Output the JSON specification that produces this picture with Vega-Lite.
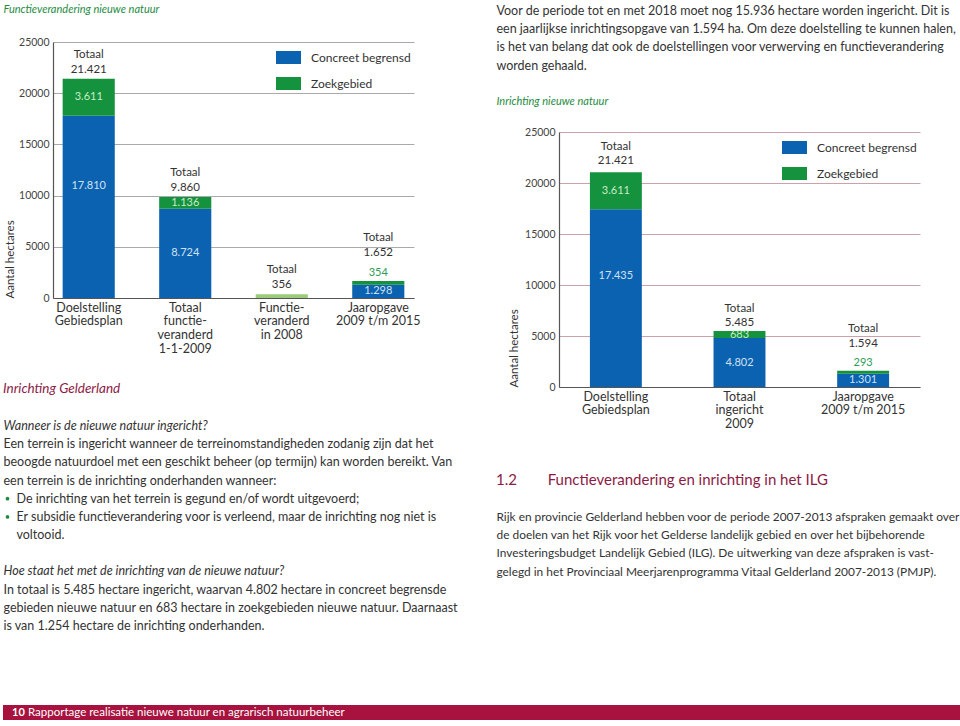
{
  "$schema": "https://vega.github.io/schema/vega-lite/v6.json",
  "background": "white",
  "padding": {"left": 3, "top": 3, "right": 0, "bottom": 0},
  "config": {
    "font": "Lato",
    "view": {"stroke": null},
    "locale": {"number": {"decimal": ",", "thousands": ".", "grouping": [3], "currency": ["€", ""]}},
    "title": {"fontWeight": "normal", "anchor": "start", "frame": "bounds", "font": "Lato"},
    "axis": {"labelFont": "Lato", "titleFont": "Lato"},
    "legend": {"labelFont": "Lato"},
    "text": {"font": "Lato"}
  },
  "datasets": {
    "left": [
      {"cat": "Doelstelling\nGebiedsplan", "series": "Concreet begrensd", "value": 17810},
      {"cat": "Doelstelling\nGebiedsplan", "series": "Zoekgebied", "value": 3611},
      {"cat": "Totaal\nfunctie-\nveranderd\n1-1-2009", "series": "Concreet begrensd", "value": 8724},
      {"cat": "Totaal\nfunctie-\nveranderd\n1-1-2009", "series": "Zoekgebied", "value": 1136},
      {"cat": "Functie-\nveranderd\nin 2008", "series": "Functieveranderd", "value": 356},
      {"cat": "Jaaropgave\n2009 t/m 2015", "series": "Concreet begrensd", "value": 1298},
      {"cat": "Jaaropgave\n2009 t/m 2015", "series": "Zoekgebied", "value": 354}
    ],
    "leftTotals": [
      {"cat": "Doelstelling\nGebiedsplan", "total": 21421},
      {"cat": "Totaal\nfunctie-\nveranderd\n1-1-2009", "total": 9860},
      {"cat": "Functie-\nveranderd\nin 2008", "total": 356},
      {"cat": "Jaaropgave\n2009 t/m 2015", "total": 1652}
    ],
    "right": [
      {"cat": "Doelstelling\nGebiedsplan", "series": "Concreet begrensd", "value": 17435},
      {"cat": "Doelstelling\nGebiedsplan", "series": "Zoekgebied", "value": 3611},
      {"cat": "Totaal\ningericht\n2009", "series": "Concreet begrensd", "value": 4802},
      {"cat": "Totaal\ningericht\n2009", "series": "Zoekgebied", "value": 683},
      {"cat": "Jaaropgave\n2009 t/m 2015", "series": "Concreet begrensd", "value": 1301},
      {"cat": "Jaaropgave\n2009 t/m 2015", "series": "Zoekgebied", "value": 293}
    ],
    "rightTotals": [
      {"cat": "Doelstelling\nGebiedsplan", "total": 21421},
      {"cat": "Totaal\ningericht\n2009", "total": 5485},
      {"cat": "Jaaropgave\n2009 t/m 2015", "total": 1594}
    ],
    "ltItalic": [
      {"line": 0, "text": "Wanneer is de nieuwe natuur ingericht?"},
      {"line": 8, "text": "Hoe staat het met de inrichting van de nieuwe natuur?"}
    ],
    "ltBody": [
      {"line": 1, "text": "Een terrein is ingericht wanneer de terreinomstandigheden zodanig zijn dat het"},
      {"line": 2, "text": "beoogde natuurdoel met een geschikt beheer (op termijn) kan worden bereikt. Van"},
      {"line": 3, "text": "een terrein is de inrichting onderhanden wanneer:"},
      {"line": 9, "text": "In totaal is 5.485 hectare ingericht, waarvan 4.802 hectare in concreet begrensde"},
      {"line": 10, "text": "gebieden nieuwe natuur en 683 hectare in zoekgebieden nieuwe natuur. Daarnaast"},
      {"line": 11, "text": "is van 1.254 hectare de inrichting onderhanden."}
    ],
    "ltIndent": [
      {"line": 4, "text": "De inrichting van het terrein is gegund en/of wordt uitgevoerd;"},
      {"line": 5, "text": "Er subsidie functieverandering voor is verleend, maar de inrichting nog niet is"},
      {"line": 6, "text": "voltooid."}
    ],
    "ltBullet": [{"line": 4}, {"line": 5}],
    "rtTop": [
      {"line": 0, "text": "Voor de periode tot en met 2018 moet nog 15.936 hectare worden ingericht. Dit is"},
      {"line": 1, "text": "een jaarlijkse inrichtingsopgave van 1.594 ha. Om deze doelstelling te kunnen halen,"},
      {"line": 2, "text": "is het van belang dat ook de doelstellingen voor verwerving en functieverandering"},
      {"line": 3, "text": "worden gehaald."}
    ],
    "rtTopCaption": [
      {"line": 5, "text": "Inrichting nieuwe natuur"}
    ],
    "rtBody": [
      {"line": 0, "text": "Rijk en provincie Gelderland hebben voor de periode 2007-2013 afspraken gemaakt over"},
      {"line": 1, "text": "de doelen van het Rijk voor het Gelderse landelijk gebied en over het bijbehorende"},
      {"line": 2, "text": "Investeringsbudget Landelijk Gebied (ILG). De uitwerking van deze afspraken is vast-"},
      {"line": 3, "text": "gelegd in het Provinciaal Meerjarenprogramma Vitaal Gelderland 2007-2013 (PMJP)."}
    ]
  },
  "vconcat": [
    {
      "hconcat": [
        {
          "vconcat": [
            {
              "width": 1,
              "height": 1,
              "data": {"values": [{"text": "Functieverandering nieuwe natuur"}]},
              "mark": {"type": "text", "align": "left", "baseline": "middle", "fontStyle": "italic", "fontSize": 11, "color": "#1e8c3f", "dy": -2},
              "encoding": {"text": {"field": "text"}}
            },
            {
              "vconcat": [
                {
                  "hconcat": [
                    {
                      "width": 1,
                      "height": 1,
                      "data": {"values": [{"k": 0}]},
                      "mark": {"type": "point", "filled": true, "size": 0, "opacity": 0},
                      "encoding": {}
                    },
                    {
                      "width": 361,
                      "height": 256,
                      "data": {"name": "left"},
                      "encoding": {
                        "x": {
                          "field": "cat", "type": "nominal", "sort": null, "title": null,
                          "scale": {"domain": ["Doelstelling\nGebiedsplan", "Totaal\nfunctie-\nveranderd\n1-1-2009", "Functie-\nveranderd\nin 2008", "Jaaropgave\n2009 t/m 2015"], "paddingInner": 0.46, "paddingOuter": 0.1},
                          "axis": {"labelExpr": "split(datum.label, '\\n')", "labelAngle": 0, "labelFontSize": 12.5, "labelColor": "#333", "labelLineHeight": 13.7, "labelPadding": 3, "labelBaseline": "top", "ticks": false, "domainColor": "#555", "domainWidth": 1.2, "grid": false}
                        }
                      },
                      "layer": [
                        {
                          "mark": {"type": "bar"},
                          "encoding": {
                            "y": {
                              "field": "value", "type": "quantitative", "stack": "zero", "title": "Aantal hectares",
                              "scale": {"domain": [0, 25000], "nice": false},
                              "axis": {"values": [0, 5000, 10000, 15000, 20000, 25000], "format": "d", "labelFontSize": 10.5, "labelColor": "#444", "ticks": false, "labelPadding": 4, "domainColor": "#555", "domainWidth": 1.2, "grid": true, "gridColor": "#aaaaaa", "titleFontSize": 11.5, "titleFontWeight": "normal", "titleColor": "#333", "titleAnchor": "start", "titlePadding": 3}
                            },
                            "color": {
                              "field": "series", "type": "nominal",
                              "scale": {"domain": ["Concreet begrensd", "Zoekgebied", "Functieveranderd"], "range": ["#0b62b0", "#14923e", "#9ccb7a"]},
                              "legend": {"values": ["Concreet begrensd", "Zoekgebied"], "orient": "top-right", "offset": 3, "title": null, "labelFontSize": 12, "labelColor": "#333", "symbolType": "M-1,-0.52H1V0.52H-1Z", "symbolSize": 625, "symbolStrokeWidth": 0, "symbolOpacity": 1, "rowPadding": 7, "labelOffset": 10, "padding": 0}
                            },
                            "order": {"field": "series"}
                          }
                        },
                        {
                          "transform": [
                            {"stack": "value", "groupby": ["cat"], "sort": [{"field": "series"}], "as": ["v0", "v1"]},
                            {"filter": "datum.series === 'Concreet begrensd' && datum.value < 15000"},
                            {"fold": ["v0", "v1"], "as": ["edge", "pos"]},
                            {"aggregate": [{"op": "mean", "field": "pos", "as": "mid"}], "groupby": ["cat", "value"]}
                          ],
                          "mark": {"type": "text", "color": "#cfe1f4", "fontSize": 11, "baseline": "middle"},
                          "encoding": {
                            "y": {"field": "mid", "type": "quantitative", "title": "Aantal hectares", "scale": {"domain": [0, 25000], "nice": false}},
                            "text": {"field": "value", "type": "quantitative", "format": ",d"}
                          }
                        },
                        {
                          "transform": [
                            {"stack": "value", "groupby": ["cat"], "sort": [{"field": "series"}], "as": ["v0", "v1"]},
                            {"filter": "datum.series === 'Concreet begrensd' && datum.value >= 15000"},
                            {"fold": ["v0", "v1"], "as": ["edge", "pos"]},
                            {"aggregate": [{"op": "mean", "field": "pos", "as": "mid"}], "groupby": ["cat", "value"]}
                          ],
                          "mark": {"type": "text", "color": "#cfe1f4", "fontSize": 11, "baseline": "middle", "dy": -21},
                          "encoding": {
                            "y": {"field": "mid", "type": "quantitative", "title": "Aantal hectares", "scale": {"domain": [0, 25000], "nice": false}},
                            "text": {"field": "value", "type": "quantitative", "format": ",d"}
                          }
                        },
                        {
                          "transform": [
                            {"stack": "value", "groupby": ["cat"], "sort": [{"field": "series"}], "as": ["v0", "v1"]},
                            {"filter": "datum.series === 'Zoekgebied' && datum.value >= 500"},
                            {"fold": ["v0", "v1"], "as": ["edge", "pos"]},
                            {"aggregate": [{"op": "mean", "field": "pos", "as": "mid"}], "groupby": ["cat", "value"]}
                          ],
                          "mark": {"type": "text", "color": "#c9ecc6", "fontSize": 11, "baseline": "middle"},
                          "encoding": {
                            "y": {"field": "mid", "type": "quantitative", "title": "Aantal hectares", "scale": {"domain": [0, 25000], "nice": false}},
                            "text": {"field": "value", "type": "quantitative", "format": ",d"}
                          }
                        },
                        {
                          "transform": [
                            {"stack": "value", "groupby": ["cat"], "sort": [{"field": "series"}], "as": ["v0", "v1"]},
                            {"filter": "datum.series === 'Zoekgebied' && datum.value < 500"}
                          ],
                          "mark": {"type": "text", "color": "#2e9b57", "fontSize": 11, "baseline": "middle", "dy": -8},
                          "encoding": {
                            "y": {"field": "v1", "type": "quantitative", "title": "Aantal hectares", "scale": {"domain": [0, 25000], "nice": false}},
                            "text": {"field": "value", "type": "quantitative", "format": ",d"}
                          }
                        },
                        {
                          "data": {"name": "leftTotals"},
                          "transform": [{"filter": "indexof(datum.cat, 'Jaaropgave') !== 0"}],
                          "mark": {"type": "text", "color": "#333", "fontSize": 11.5, "baseline": "middle", "dy": -24, "text": "Totaal"},
                          "encoding": {
                            "y": {"field": "total", "type": "quantitative", "title": "Aantal hectares", "scale": {"domain": [0, 25000], "nice": false}}
                          }
                        },
                        {
                          "data": {"name": "leftTotals"},
                          "transform": [{"filter": "indexof(datum.cat, 'Jaaropgave') !== 0"}],
                          "mark": {"type": "text", "color": "#333", "fontSize": 11.5, "baseline": "middle", "dy": -9},
                          "encoding": {
                            "y": {"field": "total", "type": "quantitative", "title": "Aantal hectares", "scale": {"domain": [0, 25000], "nice": false}},
                            "text": {"field": "total", "type": "quantitative", "format": ",d"}
                          }
                        },
                        {
                          "data": {"name": "leftTotals"},
                          "transform": [{"filter": "indexof(datum.cat, 'Jaaropgave') === 0"}],
                          "mark": {"type": "text", "color": "#333", "fontSize": 11.5, "baseline": "middle", "dy": -43, "text": "Totaal"},
                          "encoding": {
                            "y": {"field": "total", "type": "quantitative", "title": "Aantal hectares", "scale": {"domain": [0, 25000], "nice": false}}
                          }
                        },
                        {
                          "data": {"name": "leftTotals"},
                          "transform": [{"filter": "indexof(datum.cat, 'Jaaropgave') === 0"}],
                          "mark": {"type": "text", "color": "#333", "fontSize": 11.5, "baseline": "middle", "dy": -28},
                          "encoding": {
                            "y": {"field": "total", "type": "quantitative", "title": "Aantal hectares", "scale": {"domain": [0, 25000], "nice": false}},
                            "text": {"field": "total", "type": "quantitative", "format": ",d"}
                          }
                        }
                      ]
                    }
                  ],
                  "spacing": 0,
                  "resolve": {"scale": {"color": "independent"}, "legend": {"color": "independent"}}
                },
                {
                  "title": {"text": "Inrichting Gelderland", "color": "#8c1a45", "fontSize": 13.5, "fontStyle": "italic", "offset": 25},
                  "width": 1,
                  "height": 200,
                  "encoding": {
                    "y": {"field": "line", "type": "quantitative", "scale": {"domain": [0, 11], "reverse": true, "nice": false, "zero": false}, "axis": null}
                  },
                  "layer": [
                    {
                      "data": {"name": "ltItalic"},
                      "mark": {"type": "text", "align": "left", "baseline": "middle", "fontSize": 12.5, "fontStyle": "italic", "color": "#333"},
                      "encoding": {"text": {"field": "text"}}
                    },
                    {
                      "data": {"name": "ltBody"},
                      "mark": {"type": "text", "align": "left", "baseline": "middle", "fontSize": 12.5, "color": "#333"},
                      "encoding": {"text": {"field": "text"}}
                    },
                    {
                      "data": {"name": "ltIndent"},
                      "mark": {"type": "text", "align": "left", "baseline": "middle", "fontSize": 12.5, "color": "#333", "dx": 13},
                      "encoding": {"text": {"field": "text"}}
                    },
                    {
                      "data": {"name": "ltBullet"},
                      "mark": {"type": "circle", "color": "#1e8c3f", "size": 14, "opacity": 1, "xOffset": 4},
                      "encoding": {}
                    }
                  ]
                }
              ],
              "spacing": 26
            }
          ],
          "spacing": 22
        },
        {
          "vconcat": [
            {
              "width": 1,
              "height": 91,
              "encoding": {
                "y": {"field": "line", "type": "quantitative", "scale": {"domain": [0, 5], "reverse": true, "nice": false, "zero": false}, "axis": null}
              },
              "layer": [
                {
                  "data": {"name": "rtTop"},
                  "mark": {"type": "text", "align": "left", "baseline": "middle", "fontSize": 12.5, "color": "#333"},
                  "encoding": {"text": {"field": "text"}}
                },
                {
                  "data": {"name": "rtTopCaption"},
                  "mark": {"type": "text", "align": "left", "baseline": "middle", "fontSize": 11, "fontStyle": "italic", "color": "#1e8c3f"},
                  "encoding": {"text": {"field": "text"}}
                }
              ]
            },
            {
              "vconcat": [
                {
                  "hconcat": [
                    {
                      "width": 1,
                      "height": 1,
                      "data": {"values": [{"k": 0}]},
                      "mark": {"type": "point", "filled": true, "size": 0, "opacity": 0},
                      "encoding": {}
                    },
                    {
                      "width": 361,
                      "height": 255,
                      "data": {"name": "right"},
                      "encoding": {
                        "x": {
                          "field": "cat", "type": "nominal", "sort": null, "title": null,
                          "scale": {"domain": ["Doelstelling\nGebiedsplan", "Totaal\ningericht\n2009", "Jaaropgave\n2009 t/m 2015"], "paddingInner": 0.58, "paddingOuter": 0.25},
                          "axis": {"labelExpr": "split(datum.label, '\\n')", "labelAngle": 0, "labelFontSize": 12.5, "labelColor": "#333", "labelLineHeight": 13.7, "labelPadding": 3, "labelBaseline": "top", "ticks": false, "domainColor": "#555", "domainWidth": 1.2, "grid": false}
                        }
                      },
                      "layer": [
                        {
                          "mark": {"type": "bar"},
                          "encoding": {
                            "y": {
                              "field": "value", "type": "quantitative", "stack": "zero", "title": "Aantal hectares",
                              "scale": {"domain": [0, 25000], "nice": false},
                              "axis": {"values": [0, 5000, 10000, 15000, 20000, 25000], "format": "d", "labelFontSize": 10.5, "labelColor": "#444", "ticks": false, "labelPadding": 4, "domainColor": "#555", "domainWidth": 1.2, "grid": true, "gridColor": "#c9a3ab", "titleFontSize": 11.5, "titleFontWeight": "normal", "titleColor": "#333", "titleAnchor": "start", "titlePadding": 5}
                            },
                            "color": {
                              "field": "series", "type": "nominal",
                              "scale": {"domain": ["Concreet begrensd", "Zoekgebied"], "range": ["#0b62b0", "#14923e"]},
                              "legend": {"orient": "top-right", "offset": 3, "title": null, "labelFontSize": 12, "labelColor": "#333", "symbolType": "M-1,-0.52H1V0.52H-1Z", "symbolSize": 625, "symbolStrokeWidth": 0, "symbolOpacity": 1, "rowPadding": 7, "labelOffset": 10, "padding": 0}
                            },
                            "order": {"field": "series"}
                          }
                        },
                        {
                          "transform": [
                            {"stack": "value", "groupby": ["cat"], "sort": [{"field": "series"}], "as": ["v0", "v1"]},
                            {"filter": "datum.series === 'Concreet begrensd' && datum.value < 15000"},
                            {"fold": ["v0", "v1"], "as": ["edge", "pos"]},
                            {"aggregate": [{"op": "mean", "field": "pos", "as": "mid"}], "groupby": ["cat", "value"]}
                          ],
                          "mark": {"type": "text", "color": "#cfe1f4", "fontSize": 11, "baseline": "middle"},
                          "encoding": {
                            "y": {"field": "mid", "type": "quantitative", "title": "Aantal hectares", "scale": {"domain": [0, 25000], "nice": false}},
                            "text": {"field": "value", "type": "quantitative", "format": ",d"}
                          }
                        },
                        {
                          "transform": [
                            {"stack": "value", "groupby": ["cat"], "sort": [{"field": "series"}], "as": ["v0", "v1"]},
                            {"filter": "datum.series === 'Concreet begrensd' && datum.value >= 15000"},
                            {"fold": ["v0", "v1"], "as": ["edge", "pos"]},
                            {"aggregate": [{"op": "mean", "field": "pos", "as": "mid"}], "groupby": ["cat", "value"]}
                          ],
                          "mark": {"type": "text", "color": "#cfe1f4", "fontSize": 11, "baseline": "middle", "dy": -22},
                          "encoding": {
                            "y": {"field": "mid", "type": "quantitative", "title": "Aantal hectares", "scale": {"domain": [0, 25000], "nice": false}},
                            "text": {"field": "value", "type": "quantitative", "format": ",d"}
                          }
                        },
                        {
                          "transform": [
                            {"stack": "value", "groupby": ["cat"], "sort": [{"field": "series"}], "as": ["v0", "v1"]},
                            {"filter": "datum.series === 'Zoekgebied' && datum.value >= 500"},
                            {"fold": ["v0", "v1"], "as": ["edge", "pos"]},
                            {"aggregate": [{"op": "mean", "field": "pos", "as": "mid"}], "groupby": ["cat", "value"]}
                          ],
                          "mark": {"type": "text", "color": "#c9ecc6", "fontSize": 11, "baseline": "middle"},
                          "encoding": {
                            "y": {"field": "mid", "type": "quantitative", "title": "Aantal hectares", "scale": {"domain": [0, 25000], "nice": false}},
                            "text": {"field": "value", "type": "quantitative", "format": ",d"}
                          }
                        },
                        {
                          "transform": [
                            {"stack": "value", "groupby": ["cat"], "sort": [{"field": "series"}], "as": ["v0", "v1"]},
                            {"filter": "datum.series === 'Zoekgebied' && datum.value < 500"}
                          ],
                          "mark": {"type": "text", "color": "#2e9b57", "fontSize": 11, "baseline": "middle", "dy": -8},
                          "encoding": {
                            "y": {"field": "v1", "type": "quantitative", "title": "Aantal hectares", "scale": {"domain": [0, 25000], "nice": false}},
                            "text": {"field": "value", "type": "quantitative", "format": ",d"}
                          }
                        },
                        {
                          "data": {"name": "rightTotals"},
                          "transform": [{"filter": "indexof(datum.cat, 'Jaaropgave') !== 0"}],
                          "mark": {"type": "text", "color": "#333", "fontSize": 11.5, "baseline": "middle", "dy": -22, "text": "Totaal"},
                          "encoding": {
                            "y": {"field": "total", "type": "quantitative", "title": "Aantal hectares", "scale": {"domain": [0, 25000], "nice": false}}
                          }
                        },
                        {
                          "data": {"name": "rightTotals"},
                          "transform": [{"filter": "indexof(datum.cat, 'Jaaropgave') !== 0"}],
                          "mark": {"type": "text", "color": "#333", "fontSize": 11.5, "baseline": "middle", "dy": -8},
                          "encoding": {
                            "y": {"field": "total", "type": "quantitative", "title": "Aantal hectares", "scale": {"domain": [0, 25000], "nice": false}},
                            "text": {"field": "total", "type": "quantitative", "format": ",d"}
                          }
                        },
                        {
                          "data": {"name": "rightTotals"},
                          "transform": [{"filter": "indexof(datum.cat, 'Jaaropgave') === 0"}],
                          "mark": {"type": "text", "color": "#333", "fontSize": 11.5, "baseline": "middle", "dy": -42, "text": "Totaal"},
                          "encoding": {
                            "y": {"field": "total", "type": "quantitative", "title": "Aantal hectares", "scale": {"domain": [0, 25000], "nice": false}}
                          }
                        },
                        {
                          "data": {"name": "rightTotals"},
                          "transform": [{"filter": "indexof(datum.cat, 'Jaaropgave') === 0"}],
                          "mark": {"type": "text", "color": "#333", "fontSize": 11.5, "baseline": "middle", "dy": -27},
                          "encoding": {
                            "y": {"field": "total", "type": "quantitative", "title": "Aantal hectares", "scale": {"domain": [0, 25000], "nice": false}},
                            "text": {"field": "total", "type": "quantitative", "format": ",d"}
                          }
                        }
                      ]
                    }
                  ],
                  "spacing": 11,
                  "resolve": {"scale": {"color": "independent"}, "legend": {"color": "independent"}}
                },
                {
                  "title": {"text": "1.2\u00a0\u00a0\u00a0\u00a0\u00a0\u00a0\u00a0\u00a0Functieverandering en inrichting in het ILG", "color": "#8c1a45", "fontSize": 15, "offset": 23.5},
                  "width": 1,
                  "height": 54.6,
                  "data": {"name": "rtBody"},
                  "mark": {"type": "text", "align": "left", "baseline": "middle", "fontSize": 11.9, "color": "#333"},
                  "encoding": {
                    "y": {"field": "line", "type": "quantitative", "scale": {"domain": [0, 3], "reverse": true, "nice": false, "zero": false}, "axis": null},
                    "text": {"field": "text"}
                  }
                }
              ],
              "spacing": 42
            }
          ],
          "spacing": 20
        }
      ],
      "spacing": 38
    },
    {
      "width": 957,
      "height": 15,
      "view": {"fill": "#a8123e", "stroke": null},
      "data": {"values": [{"page": "10", "report": "Rapportage realisatie nieuwe natuur en agrarisch natuurbeheer"}]},
      "layer": [
        {
          "mark": {"type": "text", "align": "left", "baseline": "middle", "color": "white", "fontWeight": "bold", "fontSize": 11, "x": 9},
          "encoding": {"text": {"field": "page"}}
        },
        {
          "mark": {"type": "text", "align": "left", "baseline": "middle", "color": "white", "fontSize": 11.5, "x": 25},
          "encoding": {"text": {"field": "report"}}
        }
      ]
    }
  ],
  "spacing": 72
}
